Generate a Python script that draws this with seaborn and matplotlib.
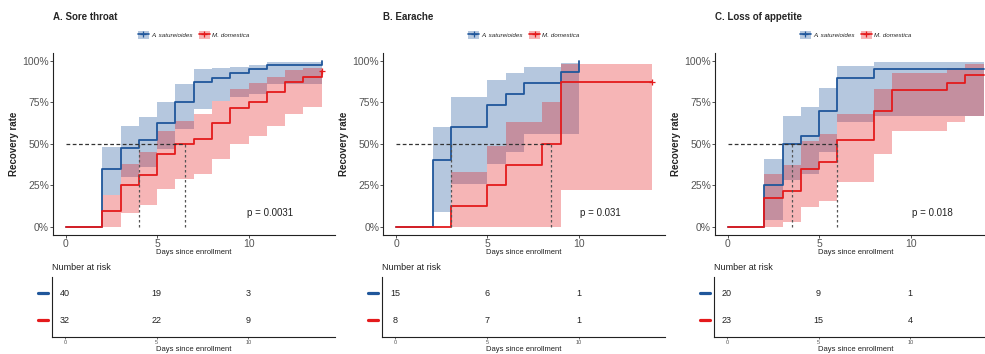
import matplotlib
matplotlib.use('Agg')
import matplotlib.pyplot as plt
from matplotlib.patches import Patch
from matplotlib.lines import Line2D
from matplotlib.legend_handler import HandlerTuple
import pandas as pd
import seaborn as sns

# ---- datos ----
grupos = ['A. satureioides', 'M. domestica']
titulos = ['A. Sore throat', 'B. Earache', 'C. Loss of appetite']
pvalores = ['p = 0.0031', 'p = 0.031', 'p = 0.018']
dias_riesgo = [0, 5, 10]

# A. Sore throat
A_blue_t = [0, 2, 3, 4, 5, 6, 7, 8, 9, 10, 11, 14]
A_blue_s = [0, 0.35, 0.475, 0.525, 0.625, 0.75, 0.875, 0.9, 0.925, 0.95, 0.975, 1.0]
A_blue_lo = [0, 0.19, 0.30, 0.36, 0.47, 0.59, 0.71, 0.76, 0.78, 0.80, 0.86, 0.86]
A_blue_hi = [0, 0.48, 0.61, 0.66, 0.75, 0.86, 0.95, 0.955, 0.965, 0.975, 0.995, 0.995]
A_red_t = [0, 2, 3, 4, 5, 6, 7, 8, 9, 10, 11, 12, 13, 14]
A_red_s = [0, 0.094, 0.25, 0.3125, 0.4375, 0.5, 0.531, 0.625, 0.719, 0.75, 0.8125, 0.875, 0.906, 0.9375]
A_red_lo = [0, 0, 0.08, 0.13, 0.23, 0.29, 0.32, 0.41, 0.50, 0.55, 0.61, 0.68, 0.72, 0.72]
A_red_hi = [0, 0.19, 0.38, 0.45, 0.58, 0.64, 0.68, 0.76, 0.83, 0.865, 0.905, 0.945, 0.955, 0.955]
A_medianas = [4, 6.5]
A_riesgo_blue = [40, 19, 3]
A_riesgo_red = [32, 22, 9]
A_censura = [False, True]

# B. Earache
B_blue_t = [0, 2, 3, 5, 6, 7, 9, 10]
B_blue_s = [0, 0.4, 0.6, 0.733, 0.8, 0.867, 0.933, 1.0]
B_blue_lo = [0, 0.09, 0.26, 0.38, 0.45, 0.56, 0.56, 0.56]
B_blue_hi = [0, 0.60, 0.78, 0.885, 0.925, 0.965, 0.99, 0.99]
B_red_t = [0, 3, 5, 6, 8, 9, 14]
B_red_s = [0, 0.125, 0.25, 0.375, 0.5, 0.875, 0.875]
B_red_lo = [0, 0, 0, 0, 0, 0.22, 0.22]
B_red_hi = [0, 0.33, 0.49, 0.63, 0.75, 0.98, 0.98]
B_medianas = [3, 8.5]
B_riesgo_blue = [15, 6, 1]
B_riesgo_red = [8, 7, 1]
B_censura = [False, True]

# C. Loss of appetite
C_blue_t = [0, 2, 3, 4, 5, 6, 8, 14]
C_blue_s = [0, 0.25, 0.5, 0.55, 0.7, 0.9, 0.95, 0.95]
C_blue_lo = [0, 0.04, 0.28, 0.32, 0.45, 0.63, 0.67, 0.67]
C_blue_hi = [0, 0.41, 0.67, 0.72, 0.84, 0.97, 0.995, 0.995]
C_red_t = [0, 2, 3, 4, 5, 6, 8, 9, 12, 13, 14]
C_red_s = [0, 0.174, 0.217, 0.348, 0.391, 0.522, 0.696, 0.826, 0.87, 0.913, 0.913]
C_red_lo = [0, 0, 0.03, 0.12, 0.155, 0.27, 0.44, 0.58, 0.63, 0.67, 0.67]
C_red_hi = [0, 0.32, 0.37, 0.52, 0.56, 0.68, 0.83, 0.93, 0.96, 0.98, 0.98]
C_medianas = [3.5, 6]
C_riesgo_blue = [20, 9, 1]
C_riesgo_red = [23, 15, 4]
C_censura = [False, False]

paneles = [
    (A_blue_t, A_blue_s, A_blue_lo, A_blue_hi, A_red_t, A_red_s, A_red_lo, A_red_hi, A_medianas, A_riesgo_blue, A_riesgo_red, A_censura),
    (B_blue_t, B_blue_s, B_blue_lo, B_blue_hi, B_red_t, B_red_s, B_red_lo, B_red_hi, B_medianas, B_riesgo_blue, B_riesgo_red, B_censura),
    (C_blue_t, C_blue_s, C_blue_lo, C_blue_hi, C_red_t, C_red_s, C_red_lo, C_red_hi, C_medianas, C_riesgo_blue, C_riesgo_red, C_censura),
]

# ---- estetica ----
sns.set_theme(style="white")
plt.rcParams['font.family'] = ['Liberation Sans', 'DejaVu Sans']
AZUL = '#20579B'
ROJO = '#E41A1C'
GRIS = '#555555'
colores = [AZUL, ROJO]

W, H = 985, 354
fig = plt.figure(figsize=(W / 100, H / 100), dpi=100)


def ejes_px(izq, arriba, der, abajo):
    return fig.add_axes([izq / W, 1 - abajo / H, (der - izq) / W, (abajo - arriba) / H])


izquierdas = [53, 383.3, 715]
ancho = 281.5

for i, (bt, bs, blo, bhi, rt, rs, rlo, rhi, med, nb, nr, cens) in enumerate(paneles):
    x0 = izquierdas[i]
    centro = x0 + ancho / 2

    # ---------- curva principal ----------
    ax = ejes_px(x0, 52.75, x0 + ancho, 235)
    ax.fill_between(bt[1:], blo[1:], bhi[1:], step='post', color=AZUL, alpha=0.33, lw=0)
    ax.fill_between(rt[1:], rlo[1:], rhi[1:], step='post', color=ROJO, alpha=0.32, lw=0)

    df = pd.concat([
        pd.DataFrame({'dia': bt, 'tasa': bs, 'grupo': grupos[0]}),
        pd.DataFrame({'dia': rt, 'tasa': rs, 'grupo': grupos[1]}),
    ])
    sns.lineplot(data=df, x='dia', y='tasa', hue='grupo', palette=colores,
                 drawstyle='steps-post', estimator=None, sort=False,
                 legend=False, linewidth=1.3, ax=ax)

    for t, s, c, flag in [(bt, bs, AZUL, cens[0]), (rt, rs, ROJO, cens[1])]:
        if flag:
            ax.plot(t[-1], s[-1], marker='+', color=c, ms=4.5, mew=0.9)

    # lineas de mediana
    ax.plot([0, max(med)], [0.5, 0.5], ls=(0, (3, 2)), color='#333333', lw=0.9)
    ax.vlines(med, 0, 0.5, linestyles=(0, (2, 2)), colors='#555555', lw=0.9)

    ax.set_xlim(-0.7, 14.7)
    ax.set_ylim(-0.05, 1.05)
    ax.set_xticks([0, 5, 10])
    ax.set_yticks([0, 0.25, 0.5, 0.75, 1.0])
    ax.set_yticklabels(['0%', '25%', '50%', '75%', '100%'])
    ax.set_xlabel('')
    ax.set_ylabel('')
    ax.tick_params(axis='both', labelsize=7.5, labelcolor=GRIS, color='#333333',
                   length=2, width=0.6, pad=1, direction='out', left=True, bottom=True)
    for lado in ['top', 'right']:
        ax.spines[lado].set_visible(False)
    for lado in ['left', 'bottom']:
        ax.spines[lado].set_color('#222222')
        ax.spines[lado].set_linewidth(0.8)

    ax.text(11.2, 0.085, pvalores[i], ha='center', va='center', fontsize=7, color='#222222')

    fig.text(x0 / W, 1 - 17 / H, titulos[i], fontsize=7, weight='bold', ha='left', va='center')
    fig.text((x0 - 39) / W, 1 - 144 / H, 'Recovery rate', fontsize=7, weight='bold',
             rotation=90, ha='center', va='center')
    fig.text(centro / W, 1 - 252.5 / H, 'Days since enrollment', fontsize=5.5,
             ha='center', va='center', color='#222222')

    manejadores = [
        (Patch(facecolor=c, alpha=0.33, lw=0), Line2D([], [], color=c, lw=1.2, marker='+', ms=4, mew=0.9))
        for c in colores
    ]
    fig.legend(manejadores, grupos, handler_map={tuple: HandlerTuple(ndivide=1, pad=0)},
               loc='center', bbox_to_anchor=(centro / W, 1 - 35 / H), ncol=2, frameon=False,
               prop={'style': 'italic', 'size': 4.5}, handlelength=1.7, handleheight=1.4,
               columnspacing=1.0, handletextpad=0.4, borderpad=0)

    # ---------- tabla de riesgo ----------
    axt = ejes_px(x0 - 1, 276.7, x0 + ancho, 336.7)
    axt.set_xlim(-0.7, 14.7)
    axt.set_ylim(2.6, 0.4)
    for fila, (valores, c) in enumerate([(nb, AZUL), (nr, ROJO)], start=1):
        for d, n in zip(dias_riesgo, valores):
            axt.text(d, fila, str(n), ha='center', va='center', fontsize=6.5, color='#222222')
        axt.add_line(Line2D([-0.05, -0.014], [fila, fila], color=c, lw=2.3,
                            transform=axt.get_yaxis_transform(), clip_on=False))
    axt.set_xticks(dias_riesgo)
    axt.set_yticks([])
    axt.tick_params(axis='x', labelsize=4, labelcolor=GRIS, color='#333333',
                    length=1.5, width=0.5, pad=1, bottom=True)
    for lado in ['top', 'right']:
        axt.spines[lado].set_visible(False)
    for lado in ['left', 'bottom']:
        axt.spines[lado].set_color('#222222')
        axt.spines[lado].set_linewidth(0.8)

    fig.text((x0 - 1) / W, 1 - 268 / H, 'Number at risk', fontsize=6.5, ha='left',
             va='center', color='#222222')
    fig.text(centro / W, 1 - 349.5 / H, 'Days since enrollment', fontsize=5.5,
             ha='center', va='center', color='#222222')

fig.savefig('out.png', dpi=100)
